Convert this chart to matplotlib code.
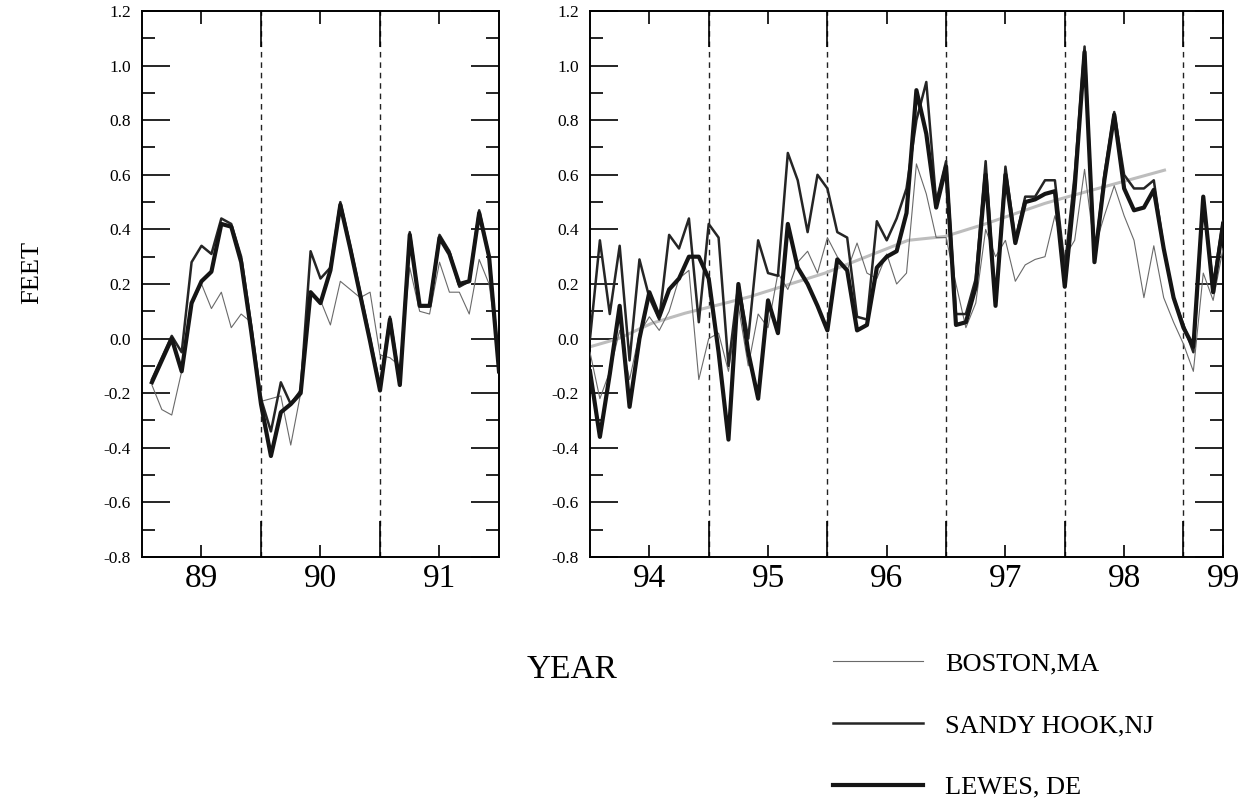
import numpy as np
import matplotlib.pyplot as plt
from matplotlib.lines import Line2D

plt.rcParams['font.family'] = ['Liberation Serif', 'DejaVu Serif']

# ---- left panel data: monthly, Feb 1989 .. Jan 1992 (months counted from Jan 1989)
left_months = np.arange(1, 37)
boston_89 = [-0.17, -0.26, -0.28, -0.12, 0.12, 0.20, 0.11, 0.17, 0.04, 0.09, 0.06, -0.23,
             -0.22, -0.21, -0.39, -0.20, 0.16, 0.14, 0.05, 0.21, 0.18, 0.15, 0.17, -0.06,
             -0.07, -0.10, 0.26, 0.10, 0.09, 0.28, 0.17, 0.17, 0.09, 0.29, 0.20, -0.07]
sandy_89 = [-0.15, -0.07, 0.01, -0.05, 0.28, 0.34, 0.31, 0.44, 0.42, 0.30, 0.05, -0.22,
            -0.34, -0.16, -0.24, -0.19, 0.32, 0.22, 0.26, 0.50, 0.34, 0.17, 0.00, -0.18,
            0.08, -0.16, 0.39, 0.12, 0.12, 0.38, 0.32, 0.19, 0.21, 0.47, 0.30, -0.10]
lewes_89 = [-0.16, -0.08, 0.00, -0.12, 0.13, 0.21, 0.245, 0.42, 0.41, 0.28, 0.03, -0.24,
            -0.43, -0.27, -0.24, -0.20, 0.17, 0.13, 0.25, 0.49, 0.33, 0.16, -0.01, -0.19,
            0.07, -0.17, 0.38, 0.12, 0.12, 0.37, 0.31, 0.20, 0.21, 0.46, 0.30, -0.12]

# ---- right panel data: monthly, Dec 1993 .. Apr 1999 (months counted from Dec 1993)
right_months = np.arange(0, 65)
boston_94 = [-0.05, -0.22, -0.12, 0.03, -0.15, 0.02, 0.08, 0.03, 0.10, 0.22, 0.25, -0.15,
             0.00, 0.02, -0.12, 0.12, -0.10, 0.09, 0.04, 0.24, 0.18, 0.28, 0.32, 0.24,
             0.37, 0.30, 0.25, 0.35, 0.24, 0.22, 0.31, 0.20, 0.24, 0.64, 0.53, 0.37,
             0.37, 0.20, 0.04, 0.13, 0.40, 0.30, 0.36, 0.21, 0.27, 0.29, 0.30, 0.45,
             0.30, 0.36, 0.62, 0.33, 0.45, 0.56, 0.45, 0.36, 0.15, 0.34, 0.15, 0.06,
             -0.02, -0.12, 0.24, 0.14, 0.33]
sandy_94 = [0.00, 0.36, 0.09, 0.34, -0.08, 0.29, 0.15, 0.07, 0.38, 0.33, 0.44, 0.06,
            0.42, 0.37, -0.10, 0.20, 0.00, 0.36, 0.24, 0.23, 0.68, 0.58, 0.39, 0.60,
            0.55, 0.39, 0.37, 0.08, 0.07, 0.43, 0.36, 0.44, 0.55, 0.80, 0.94, 0.50,
            0.65, 0.09, 0.09, 0.22, 0.65, 0.12, 0.63, 0.36, 0.52, 0.52, 0.58, 0.58,
            0.26, 0.60, 1.07, 0.29, 0.60, 0.83, 0.60, 0.55, 0.55, 0.58, 0.33, 0.15,
            0.05, -0.05, 0.50, 0.20, 0.43]
lewes_94 = [-0.12, -0.36, -0.13, 0.12, -0.25, 0.00, 0.17, 0.08, 0.18, 0.22, 0.30, 0.30,
            0.22, -0.05, -0.37, 0.20, -0.05, -0.22, 0.14, 0.02, 0.42, 0.26, 0.20, 0.12,
            0.03, 0.29, 0.25, 0.03, 0.05, 0.26, 0.30, 0.32, 0.46, 0.91, 0.75, 0.48,
            0.63, 0.05, 0.06, 0.19, 0.60, 0.12, 0.60, 0.35, 0.50, 0.51, 0.53, 0.54,
            0.19, 0.55, 1.05, 0.28, 0.58, 0.82, 0.55, 0.47, 0.48, 0.545, 0.33, 0.15,
            0.04, -0.03, 0.52, 0.17, 0.42]

# smooth trend drawn in light grey (right panel)
trend_years = [1994.0, 1994.24, 1994.52, 1994.8, 1995.14, 1995.35, 1995.98, 1996.68,
               1996.99, 1997.33, 1997.83, 1998.03, 1998.84]
trend_vals = [-0.03, 0.0, 0.056, 0.093, 0.13, 0.154, 0.24, 0.36, 0.374, 0.42, 0.495, 0.52, 0.617]

labels = ['BOSTON,MA', 'SANDY HOOK,NJ', 'LEWES, DE']
colors = ['#6a6a6a', '#252525', '#151515']
widths = [0.8, 1.8, 3.0]


def fmt(v):
    s = '%.1f' % v
    return '0.0' if s == '-0.0' else s


def setup(ax, x0, x1, bounds, mids, midlabels):
    ax.set_xlim(x0, x1)
    ax.set_ylim(-0.8, 1.2)
    yt = np.round(np.arange(-0.8, 1.21, 0.2), 1)
    ax.set_yticks(yt)
    ax.set_yticklabels([fmt(v) for v in yt])
    ax.set_yticks(np.round(np.arange(-0.7, 1.2, 0.2), 1), minor=True)
    ax.set_xticks(bounds)
    ax.set_xticklabels([''] * len(bounds))
    ax.set_xticks(mids, minor=True)
    ax.set_xticklabels(midlabels, minor=True)
    ax.tick_params(axis='y', which='major', direction='in', length=20, width=1.2,
                   left=True, right=True, labelsize=12.5, pad=8)
    ax.tick_params(axis='y', which='minor', direction='in', length=9.5, width=1.2,
                   left=True, right=True)
    ax.tick_params(axis='x', which='major', direction='in', length=26, width=1.2,
                   top=True, bottom=True)
    ax.tick_params(axis='x', which='minor', direction='in', length=9, width=1.2,
                   top=True, bottom=True, labelsize=24, pad=5)
    for s in ax.spines.values():
        s.set_linewidth(1.4)
    for b in bounds:
        ax.axvline(b, color='#222222', lw=1.0, ls=(0, (4, 3.5)), zorder=1)


fig = plt.figure(figsize=(12.49, 8.08), dpi=100)
ax1 = fig.add_axes([142 / 1249, 1 - 557 / 808, 357 / 1249, 546 / 808])
ax2 = fig.add_axes([590 / 1249, 1 - 557 / 808, 633 / 1249, 546 / 808])

x_left = 1989 + left_months / 12.0
x_right = 1994 + right_months / 12.0

setup(ax1, 1989.0, 1992.0, [1990, 1991], [1989.5, 1990.5, 1991.5], ['89', '90', '91'])
setup(ax2, 1994.0, 1999.333, [1995, 1996, 1997, 1998, 1999],
      [1994.5, 1995.5, 1996.5, 1997.5, 1998.5, 1999.333],
      ['94', '95', '96', '97', '98', '99'])

ax2.plot(trend_years, trend_vals, color='#bdbdbd', lw=2.2, zorder=2)

for ax, x, series in [(ax1, x_left, [boston_89, sandy_89, lewes_89]),
                      (ax2, x_right, [boston_94, sandy_94, lewes_94])]:
    for y, c, w in zip(series, colors, widths):
        ax.plot(x, y, color=c, lw=w, zorder=3)

fig.text(32 / 1249, 1 - 272 / 808, 'FEET', rotation=90, fontsize=19,
         ha='center', va='center')
fig.text(572 / 1249, 1 - 670 / 808, 'YEAR', fontsize=24, ha='center', va='center')

handles = [Line2D([], [], color=c, lw=w) for c, w in zip(colors, widths)]
fig.legend(handles, labels, loc='upper left', bbox_to_anchor=(833 / 1249, 1 - 652 / 808),
           frameon=False, fontsize=19, handlelength=3.4, handletextpad=0.85,
           labelspacing=1.45, borderpad=0, borderaxespad=0)

fig.savefig('out.png', dpi=100)
